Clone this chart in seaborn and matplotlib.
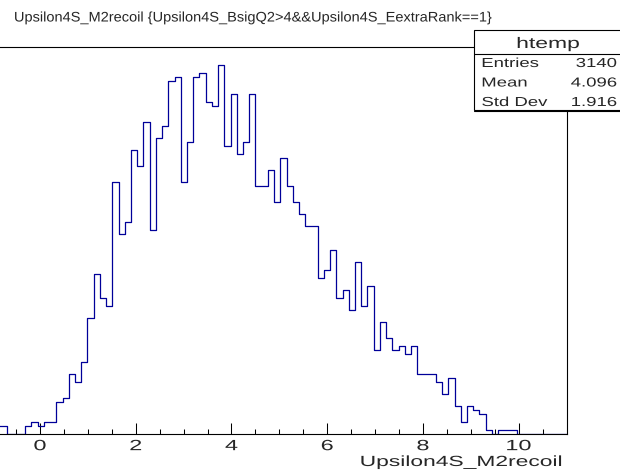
import numpy as np
import pandas as pd
import matplotlib
matplotlib.use("Agg")
import matplotlib.pyplot as plt
import seaborn as sns
from matplotlib.patheffects import AbstractPathEffect
from matplotlib.transforms import Affine2D
from matplotlib.patches import Rectangle
from matplotlib.lines import Line2D

# ---- histogram content -------------------------------------------------
bin_lo, bin_hi, n_bins = -2.0, 11.0, 100
counts = [
    0, 0, 0, 0, 0, 0, 0, 0, 2, 2,
    0, 0, 0, 2, 3, 2, 3, 3, 8, 9,
    15, 13, 18, 29, 40, 34, 32, 63, 50, 53,
    71, 67, 78, 51, 74, 77, 88, 89, 63, 73,
    89, 90, 83, 82, 92, 72, 85, 70, 73, 85,
    62, 62, 66, 58, 69, 62, 58, 55, 52, 52,
    39, 41, 46, 34, 36, 31, 43, 32, 37, 21,
    28, 24, 21, 22, 20, 22, 15, 15, 15, 13,
    10, 14, 7, 3, 7, 6, 5, 1, 0, 1,
    1, 1, 0, 0, 0, 0, 0, 0, 0, 0,
]
title = "Upsilon4S_M2recoil {Upsilon4S_BsigQ2>4&&Upsilon4S_EextraRank==1}"
x_label = "Upsilon4S_M2recoil"
stats_name = "htemp"
stats_labels = ["Entries", "Mean", "Std Dev"]
stats_values = ["3140", "4.096", "1.916"]
major_ticks = [0, 2, 4, 6, 8, 10]
tick_labels = ["0", "2", "4", "6", "8", "10"]

edges = np.linspace(bin_lo, bin_hi, n_bins + 1)
centers = 0.5 * (edges[:-1] + edges[1:])
df = pd.DataFrame({"M2recoil": centers, "n": counts})


class HStretch(AbstractPathEffect):
    """Widen glyphs horizontally about the left, centre or right ink edge."""

    def __init__(self, sx, anchor="left"):
        super().__init__()
        self.sx = sx
        self.anchor = anchor

    def draw_path(self, renderer, gc, tpath, affine, rgbFace=None):
        if len(tpath.vertices) == 0:
            renderer.draw_path(gc, tpath, affine, rgbFace)
            return
        ext = tpath.get_extents()
        if self.anchor == "center":
            p = 0.5 * (ext.x0 + ext.x1)
        elif self.anchor == "right":
            p = ext.x1
        else:
            p = ext.x0
        pre = Affine2D().translate(-p, 0).scale(self.sx, 1).translate(p, 0)
        renderer.draw_path(gc, tpath, pre + affine, rgbFace)


sns.set_style("white")
plt.rcParams["font.family"] = ["Liberation Sans", "DejaVu Sans"]

W, H = 620, 470
fig = plt.figure(figsize=(W / 100, H / 100), dpi=100)
fig.patch.set_facecolor("white")


def fx(px):
    return px / W


def fy(py):
    return 1 - py / H


# frame in pixel coordinates (left edge lies outside the canvas)
ax_l, ax_r, ax_t, ax_b = -55.7, 566.5, 47.0, 434.3
ax = fig.add_axes([fx(ax_l), fy(ax_b), (ax_r - ax_l) / W, (ax_b - ax_t) / H])
ax.set_facecolor("white")

sns.histplot(data=df, x="M2recoil", weights="n", bins=n_bins,
             binrange=(bin_lo, bin_hi), element="step", fill=False,
             color="#000099", linewidth=0.9, ax=ax)

ax.set_xlim(bin_lo, bin_hi)
ax.set_ylim(0, 1.05 * max(counts))
ax.set_ylabel("")

for side in ("top", "right", "bottom"):
    ax.spines[side].set_color("black")
    ax.spines[side].set_linewidth(0.8)
ax.spines["left"].set_visible(False)

ax.set_xticks(major_ticks, labels=tick_labels)
minor = [v for v in np.arange(-1.5, 10.51, 0.5) if v % 2 != 0]
ax.set_xticks(minor, minor=True)
ax.tick_params(axis="x", which="major", direction="in", length=7.7,
               width=0.75, color="black", labelsize=10.7, pad=3.5,
               top=False, bottom=True)
ax.tick_params(axis="x", which="minor", direction="in", length=3.4,
               width=0.75, color="black", top=False, bottom=True)
ax.tick_params(axis="y", left=False, labelleft=False, right=False)
for lab in ax.get_xticklabels():
    lab.set_path_effects([HStretch(1.58, "center")])

ax.set_xlabel(x_label, loc="right", fontsize=10.6)
ax.xaxis.set_label_coords((563 - ax_l) / (ax_r - ax_l),
                          (ax_b - 466) / (ax_b - ax_t))
ax.xaxis.label.set_verticalalignment("baseline")
ax.xaxis.label.set_horizontalalignment("right")
ax.xaxis.label.set_path_effects([HStretch(1.55, "right")])

# title
fig.text(fx(14), fy(21.5), title, ha="left", va="baseline", fontsize=10,
         path_effects=[HStretch(1.05, "left")])

# statistics box
bx0, bx1, by0, by1, bsep = 474, 623, 30, 110, 53.5
fig.add_artist(Rectangle((fx(bx0), fy(by1)), fx(bx1) - fx(bx0),
                         fy(by0) - fy(by1), transform=fig.transFigure,
                         facecolor="white", edgecolor="black",
                         linewidth=0.8, zorder=5))
fig.add_artist(Line2D([fx(bx0), fx(bx1)], [fy(by1 + 1.2), fy(by1 + 1.2)],
                      transform=fig.transFigure, color="black",
                      linewidth=0.8, zorder=5))
fig.add_artist(Line2D([fx(bx0), fx(bx1)], [fy(bsep), fy(bsep)],
                      transform=fig.transFigure, color="black",
                      linewidth=0.8, zorder=6))
fig.text(fx(548), fy(48), stats_name, ha="center", va="baseline",
         fontsize=11, zorder=7, path_effects=[HStretch(1.5, "center")])
row_base = [67, 86.5, 106]
for lab, val, yb in zip(stats_labels, stats_values, row_base):
    fig.text(fx(481.7), fy(yb), lab, ha="left", va="baseline",
             fontsize=9.4, zorder=7, path_effects=[HStretch(1.42, "left")])
    fig.text(fx(616.7), fy(yb), val, ha="right", va="baseline",
             fontsize=9.4, zorder=7, path_effects=[HStretch(1.42, "right")])

fig.savefig("out.png", dpi=100, facecolor="white")
